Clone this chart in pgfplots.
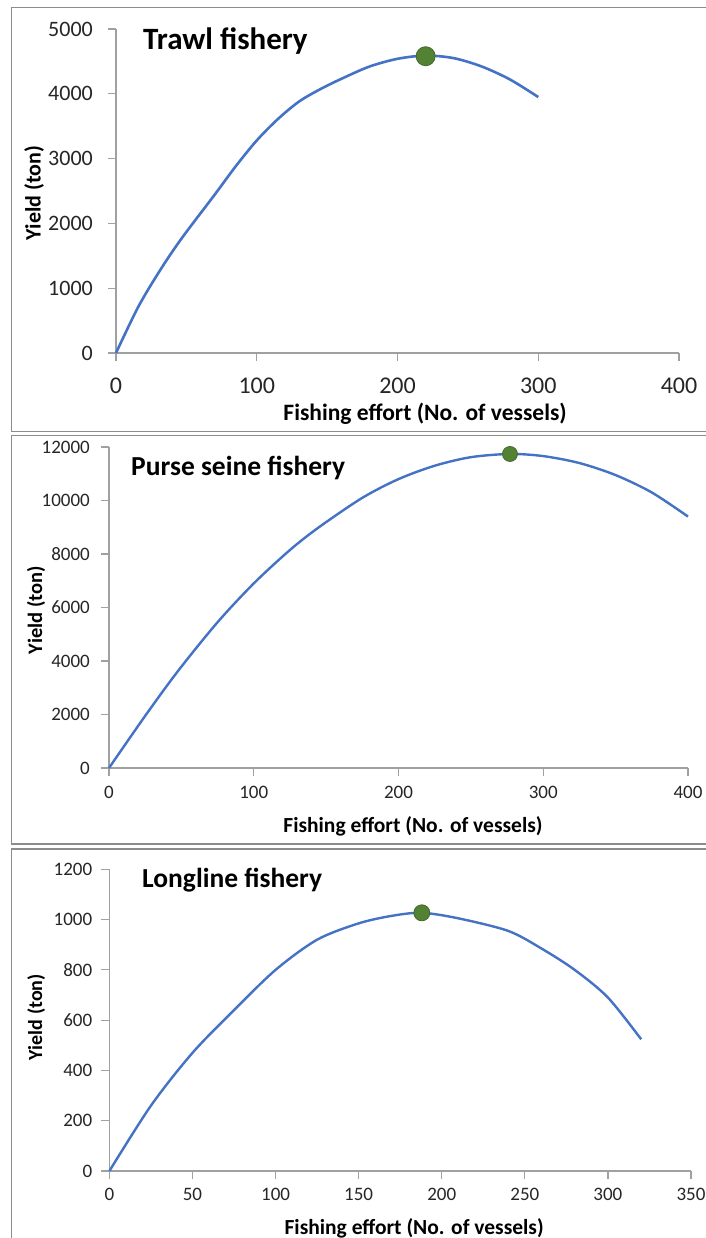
\documentclass[border=0pt]{standalone}
\usepackage{fontspec}
\setmainfont{Carlito}
\usepackage{pgfplots}
\pgfplotsset{compat=1.18}
\definecolor{xlblue}{HTML}{4472C4}
\definecolor{xlgreen}{HTML}{548235}
\definecolor{xlgreendk}{HTML}{41692A}
\definecolor{axgray}{HTML}{A0A0A0}
\definecolor{framegray}{HTML}{8C8C8C}
\definecolor{txt}{HTML}{262626}

\pgfplotsset{
 xlstyle/.style={
  scale only axis,
  anchor=south west,
  axis x line=bottom, axis y line=left,
  axis line style={-, draw=axgray, line width=1.2bp},
  tick style={draw=axgray, line width=1.2bp},
  tick align=outside,
  major tick length=8bp,
  xmin=0, ymin=0,
  clip=false,
  /pgf/number format/assume math mode=true,
  /pgf/number format/1000 sep={},
  scaled ticks=false,
  ticklabel style={text=txt, inner sep=0pt},
  xticklabel style={anchor=north},
  yticklabel style={anchor=east},
  label style={text=black, inner sep=0pt},
 }
}

\begin{document}
\begin{tikzpicture}
\useasboundingbox (0,0) rectangle (706bp,-1238bp);
\clip (0,0) rectangle (706bp,-1238bp);
\fill[white] (0,0) rectangle (706bp,-1238bp);

% frames
\draw[framegray, line width=1.5bp] (720bp,-7.5bp) -- (11.5bp,-7.5bp) -- (11.5bp,-431.5bp) -- (720bp,-431.5bp);
\draw[framegray, line width=1.5bp] (720bp,-435.5bp) -- (11.5bp,-435.5bp) -- (11.5bp,-844bp) -- (720bp,-844bp);
\draw[framegray, line width=1.5bp] (720bp,-849bp) -- (11.5bp,-849bp) -- (11.5bp,-1250bp);

% ---------- Trawl ----------
\begin{axis}[xlstyle,
  at={(116bp,-353bp)}, width=563bp, height=324bp,
  xmax=400, ymax=5000,
  xtick={0,100,200,300,400}, ytick={0,1000,2000,3000,4000,5000},
  xticklabel style={font=\fontsize{24bp}{28bp}\selectfont, yshift=-16.5bp},
  yticklabel style={font=\fontsize{22bp}{26bp}\selectfont, xshift=-15bp},
  xlabel={Fishing effort (No. of vessels)},
  ylabel={Yield (ton)},
  xlabel style={font=\bfseries\fontsize{23.5bp}{28bp}\selectfont, at={(axis description cs:0.549,0)}, anchor=base, yshift=-67bp},
  ylabel style={font=\bfseries\fontsize{22bp}{26bp}\selectfont, at={(axis description cs:-0.1456,0.494)}, anchor=center},
]
\addplot[xlblue, line width=2.6bp, smooth, tension=0.5] coordinates {
(0,0) (16,720) (32,1300) (47,1780) (70,2440) (85,2880) (100,3280) (115,3610)
(130,3880) (145,4070) (160,4230) (180,4420) (200,4540) (220,4590) (240,4550)
(260,4420) (280,4220) (300,3950)};
\addplot[only marks, mark=*, mark size=9.5bp, mark options={fill=xlgreen, draw=xlgreendk, line width=0.8bp}] coordinates {(220,4580)};
\end{axis}
\node[anchor=base west, inner sep=0pt, font=\bfseries\fontsize{31bp}{35bp}\selectfont] at (143bp,-49bp) {Trawl fishery};

% ---------- Purse seine ----------
\begin{axis}[xlstyle,
  at={(109bp,-768bp)}, width=579bp, height=321bp,
  xmax=400, ymax=12000,
  xtick={0,100,200,300,400}, ytick={0,2000,4000,6000,8000,10000,12000},
  xticklabel style={font=\fontsize{19bp}{23bp}\selectfont, yshift=-10bp},
  yticklabel style={font=\fontsize{19bp}{23bp}\selectfont, xshift=-11bp},
  xlabel={Fishing effort (No. of vessels)},
  ylabel={Yield (ton)},
  xlabel style={font=\bfseries\fontsize{21.5bp}{26bp}\selectfont, at={(axis description cs:0.525,0)}, anchor=base, yshift=-64bp},
  ylabel style={font=\bfseries\fontsize{20.5bp}{24bp}\selectfont, at={(axis description cs:-0.126,0.492)}, anchor=center},
]
\addplot[xlblue, line width=2.4bp, smooth, tension=0.5] coordinates {
(0,0) (25,1950) (48,3650) (75,5450) (100,6900) (125,8150) (145,9000) (175,10100)
(200,10800) (225,11300) (250,11620) (277,11740) (300,11660) (325,11400)
(350,10950) (375,10300) (400,9400)};
\addplot[only marks, mark=*, mark size=7.5bp, mark options={fill=xlgreen, draw=xlgreendk, line width=0.8bp}] coordinates {(277,11740)};
\end{axis}
\node[anchor=base west, inner sep=0pt, font=\bfseries\fontsize{27.5bp}{31bp}\selectfont] at (131bp,-475bp) {Purse seine fishery};

% ---------- Longline ----------
\begin{axis}[xlstyle,
  at={(109.4bp,-1171bp)}, width=581.6bp, height=301.7bp,
  xmax=350, ymax=1200,
  xtick={0,50,100,150,200,250,300,350}, ytick={0,200,400,600,800,1000,1200},
  xticklabel style={font=\fontsize{19bp}{23bp}\selectfont, yshift=-8.5bp},
  yticklabel style={font=\fontsize{19bp}{23bp}\selectfont, xshift=-9bp},
  xlabel={Fishing effort (No. of vessels)},
  ylabel={Yield (ton)},
  xlabel style={font=\bfseries\fontsize{21.5bp}{26bp}\selectfont, at={(axis description cs:0.524,0)}, anchor=base, yshift=-63bp},
  ylabel style={font=\bfseries\fontsize{20bp}{24bp}\selectfont, at={(axis description cs:-0.126,0.51)}, anchor=center},
]
\addplot[xlblue, line width=2.4bp, smooth, tension=0.5] coordinates {
(0,0) (25,260) (50,470) (75,640) (100,800) (125,920) (150,985) (170,1015)
(188,1027) (210,1005) (240,955) (260,885) (280,800) (300,690) (320,524)};
\addplot[only marks, mark=*, mark size=8bp, mark options={fill=xlgreen, draw=xlgreendk, line width=0.8bp}] coordinates {(188,1027)};
\end{axis}
\node[anchor=base west, inner sep=0pt, font=\bfseries\fontsize{27.5bp}{31bp}\selectfont] at (142bp,-887bp) {Longline fishery};
\end{tikzpicture}
\end{document}
